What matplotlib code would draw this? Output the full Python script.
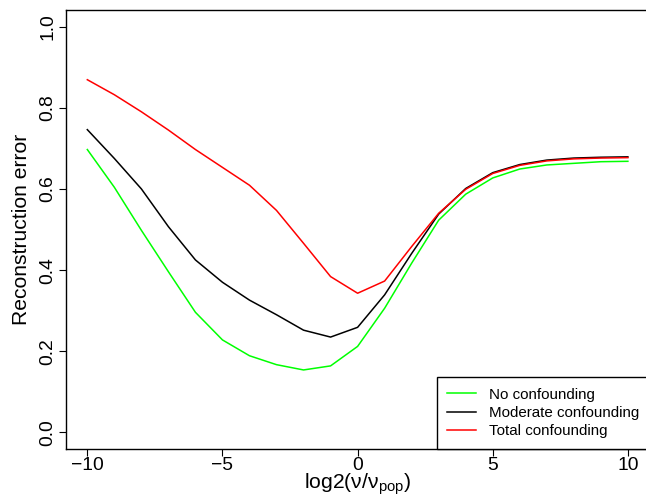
import matplotlib
matplotlib.use("Agg")
import matplotlib.pyplot as plt
import numpy as np

plt.rcParams['font.family'] = ['Liberation Sans', 'DejaVu Sans']
plt.rcParams['mathtext.fontset'] = 'custom'
plt.rcParams['mathtext.rm'] = 'Liberation Sans'
plt.rcParams['mathtext.it'] = 'Liberation Sans:italic'

x = list(range(-10, 11))
no_conf = [0.697, 0.604, 0.498, 0.396, 0.296, 0.228, 0.189, 0.167, 0.154, 0.164, 0.212,
           0.306, 0.417, 0.523, 0.587, 0.627, 0.649, 0.659, 0.663, 0.667, 0.668]
moderate = [0.746, 0.675, 0.600, 0.507, 0.425, 0.370, 0.326, 0.290, 0.252, 0.235, 0.259,
            0.339, 0.441, 0.538, 0.601, 0.640, 0.660, 0.671, 0.676, 0.678, 0.679]
total = [0.869, 0.832, 0.790, 0.745, 0.697, 0.653, 0.609, 0.547, 0.466, 0.384, 0.343,
         0.373, 0.458, 0.540, 0.599, 0.638, 0.658, 0.669, 0.674, 0.676, 0.677]
labels = ["No confounding", "Moderate confounding", "Total confounding"]
colors = ["#00FF00", "black", "red"]

W, H = 646, 494
fig = plt.figure(figsize=(W / 100, H / 100), dpi=100)
left, right, top, bottom = 65.7, 649.5, 10.3, 448.7
ax = fig.add_axes([left / W, 1 - bottom / H, (right - left) / W, (bottom - top) / H])

for ys, c, lab in zip([no_conf, moderate, total], colors, labels):
    ax.plot(x, ys, color=c, lw=1.1, label=lab)

ax.set_xlim(-10.8, 10.8)
ax.set_ylim(-0.04, 1.04)
ax.set_xticks([-10, -5, 0, 5, 10])
ax.set_xticklabels(['\u221210', '\u22125', '0', '5', '10'])
ax.set_yticks([0.0, 0.2, 0.4, 0.6, 0.8, 1.0])
ax.set_yticklabels(['0.0', '0.2', '0.4', '0.6', '0.8', '1.0'], rotation=90, va='center')
ax.tick_params(axis='both', direction='out', length=4.7, width=0.8, labelsize=13.9, color='black')
ax.tick_params(axis='x', pad=1)
ax.tick_params(axis='y', pad=2)
for s in ax.spines.values():
    s.set_linewidth(1.0)
    s.set_color('black')

ax.set_ylabel('Reconstruction error', fontsize=15.2, labelpad=6)
ax.set_xlabel(r'log2($\mathrm{\nu/\nu_{pop}}$)', fontsize=15.2, labelpad=-1.5)

leg = ax.legend(loc='lower right', borderaxespad=0, fancybox=False, framealpha=1,
                edgecolor='black', fontsize=10.9, handlelength=1.9, handletextpad=0.82,
                borderpad=0.7, labelspacing=0.28)
leg.get_frame().set_linewidth(1.0)

fig.savefig('out.png', dpi=100)
